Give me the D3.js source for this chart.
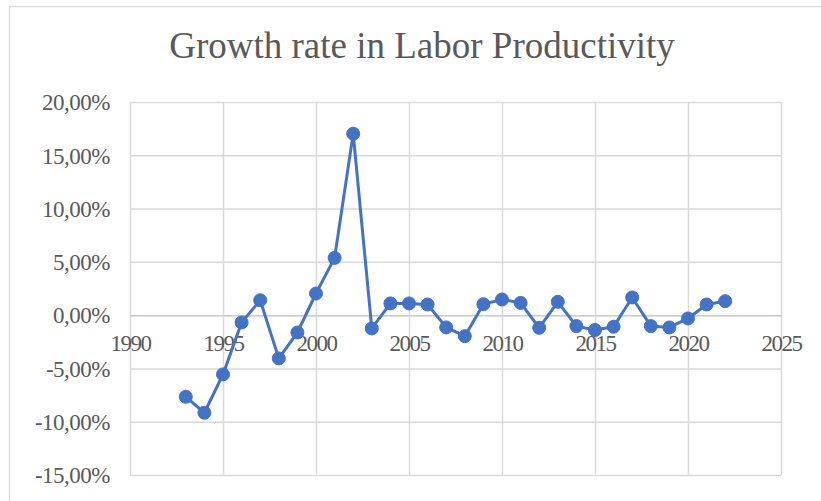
<!DOCTYPE html>
<html>
<head>
<meta charset="utf-8">
<script src="https://cdn.jsdelivr.net/npm/d3@7"></script>
<style>
  html, body { margin: 0; padding: 0; background: #ffffff; }
  svg { display: block; }
</style>
</head>
<body>
<svg id="chart" width="821" height="501"></svg>
<script>
// Annual growth rate in labor productivity (fraction)
const years = [1993, 1994, 1995, 1996, 1997, 1998, 1999, 2000, 2001, 2002,
               2003, 2004, 2005, 2006, 2007, 2008, 2009, 2010, 2011, 2012,
               2013, 2014, 2015, 2016, 2017, 2018, 2019, 2020, 2021, 2022];
const growth = [-0.0766, -0.0916, -0.0556, -0.0069, 0.0140, -0.0406, -0.0163, 0.0203, 0.0537, 0.1703,
                -0.0125, 0.0110, 0.0110, 0.0100, -0.0115, -0.0197, 0.0103, 0.0147, 0.0115, -0.0119,
                0.0125, -0.0103, -0.0140, -0.0109, 0.0166, -0.0103, -0.0115, -0.0031, 0.0100, 0.0131];

const xTicks = [1990, 1995, 2000, 2005, 2010, 2015, 2020, 2025];
const yTicks = [-0.15, -0.10, -0.05, 0, 0.05, 0.10, 0.15, 0.20];
const title = "Growth rate in Labor Productivity";

const data = years.map((y, i) => ({ year: y, value: growth[i] }));

const svg = d3.select("#chart");
const W = 821, H = 501;
const serif = "'Liberation Serif', 'Times New Roman', serif";
const plot = { left: 130, right: 781, top: 102, bottom: 475 };

const x = d3.scaleLinear().domain([1990, 2025]).range([plot.left, plot.right]);
const y = d3.scaleLinear().domain([-0.15, 0.20]).range([plot.bottom, plot.top]);

const locale = d3.formatLocale({
  decimal: ",", thousands: ".", grouping: [3], currency: ["", "€"], minus: "-", percent: "%"
});
const pct = locale.format(".2%");

// chart frame
svg.append("rect")
  .attr("x", 9.5).attr("y", 6.5)
  .attr("width", W + 20).attr("height", H + 20)
  .attr("fill", "#ffffff")
  .attr("stroke", "#d9d9d9").attr("stroke-width", 1.5);

// title
svg.append("text")
  .attr("x", 422).attr("y", 58)
  .attr("text-anchor", "middle")
  .attr("font-family", serif)
  .attr("font-size", 37)
  .attr("fill", "#595959")
  .text(title);

// horizontal gridlines + y labels
const yAxis = svg.append("g")
  .attr("transform", `translate(${plot.left},0)`)
  .call(d3.axisLeft(y).tickValues(yTicks).tickFormat(pct)
    .tickSize(-(plot.right - plot.left)).tickPadding(20));
yAxis.attr("font-family", serif).attr("font-size", 23);
yAxis.select(".domain").remove();
yAxis.selectAll(".tick line").attr("stroke", "#d9d9d9").attr("stroke-width", 1.5);
yAxis.selectAll(".tick text").attr("fill", "#595959").attr("letter-spacing", -0.5).attr("dy", "0.34em");

// vertical gridlines
const xGrid = svg.append("g")
  .attr("transform", `translate(0,${plot.bottom})`)
  .call(d3.axisBottom(x).tickValues(xTicks).tickFormat("")
    .tickSize(-(plot.bottom - plot.top)));
xGrid.select(".domain").remove();
xGrid.selectAll(".tick line").attr("stroke", "#d9d9d9").attr("stroke-width", 1.5);

// horizontal axis at zero with year labels
const xAxis = svg.append("g")
  .attr("transform", `translate(0,${y(0)})`)
  .call(d3.axisBottom(x).tickValues(xTicks).tickFormat(d3.format("d"))
    .tickSize(0).tickPadding(20));
xAxis.attr("font-family", serif).attr("font-size", 23);
xAxis.select(".domain").attr("stroke", "#d0cccc").attr("stroke-width", 1.5);
xAxis.selectAll(".tick text").attr("fill", "#595959").attr("letter-spacing", -1.5);

// series line
const line = d3.line().x(d => x(d.year)).y(d => y(d.value));
svg.append("path")
  .datum(data)
  .attr("fill", "none")
  .attr("stroke", "#4472c4")
  .attr("stroke-width", 3)
  .attr("stroke-linejoin", "round")
  .attr("d", line);

// markers
svg.append("g").selectAll("circle")
  .data(data)
  .join("circle")
  .attr("cx", d => x(d.year))
  .attr("cy", d => y(d.value))
  .attr("r", 6.5)
  .attr("fill", "#4472c4")
  .attr("stroke", "#4472c4")
  .attr("stroke-width", 1);
</script>
</body>
</html>
